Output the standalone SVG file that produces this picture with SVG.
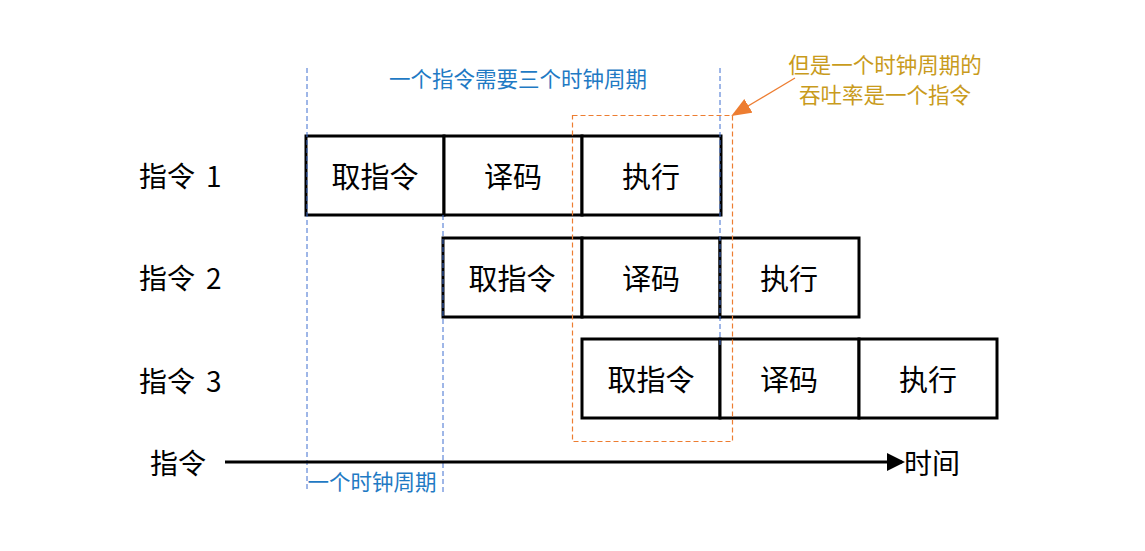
<svg xmlns="http://www.w3.org/2000/svg" width="1145" height="551" viewBox="0 0 1145 551">
<defs>
<style>
.box{fill:#fff;stroke:#000;stroke-width:3}
.t{font-family:"Noto Sans CJK SC","Liberation Sans",sans-serif;font-size:29px;fill:#000;text-anchor:middle;dominant-baseline:central}
.lab{font-family:"Noto Sans CJK SC","Liberation Sans",sans-serif;font-size:28px;fill:#000;dominant-baseline:central}
.blue{font-family:"Noto Sans CJK SC",sans-serif;font-size:21.5px;fill:#1f7ac4;dominant-baseline:central}
.gold{font-family:"Noto Sans CJK SC",sans-serif;font-size:21.5px;fill:#c99b1c;text-anchor:middle;dominant-baseline:central}
.bd{stroke:#3f6fd0;stroke-width:1;stroke-dasharray:5 3;fill:none}
.od{stroke:#ed7d31;stroke-width:1.2;stroke-dasharray:5 3;fill:none}
</style>
<marker id="ah" markerWidth="6" markerHeight="6" refX="5" refY="3" orient="auto" markerUnits="strokeWidth"><path d="M0,0 L6,3 L0,6 z" fill="#000"/></marker>
<marker id="oh" markerWidth="20" markerHeight="20" refX="18" refY="8" orient="auto" markerUnits="userSpaceOnUse"><path d="M0,0 L20,8 L0,16 z" fill="#ed7d31"/></marker>
</defs>
<rect width="1145" height="551" fill="#fff"/>
<g id="row1">
<rect class="box" x="306" y="136" width="138" height="79"/><text class="t" x="375" y="175">取指令</text>
<rect class="box" x="444" y="136" width="138" height="79"/><text class="t" x="513" y="175">译码</text>
<rect class="box" x="582" y="136" width="139" height="79"/><text class="t" x="651" y="175">执行</text>
<text class="lab" x="139" y="175">指令<tspan x="206">1</tspan></text>
</g>
<g id="row2">
<rect class="box" x="443" y="238" width="139" height="79"/><text class="t" x="512" y="277">取指令</text>
<rect class="box" x="582" y="238" width="138" height="79"/><text class="t" x="651" y="277">译码</text>
<rect class="box" x="720" y="238" width="139" height="79"/><text class="t" x="789" y="277">执行</text>
<text class="lab" x="139" y="277">指令<tspan x="206">2</tspan></text>
</g>
<g id="row3">
<rect class="box" x="582" y="339" width="138" height="79"/><text class="t" x="651" y="378">取指令</text>
<rect class="box" x="720" y="339" width="139" height="79"/><text class="t" x="789" y="378">译码</text>
<rect class="box" x="859" y="339" width="138" height="79"/><text class="t" x="928" y="378">执行</text>
<text class="lab" x="139" y="380">指令<tspan x="206">3</tspan></text>
</g>
<g id="annotations">
<line class="bd" x1="307" y1="68" x2="307" y2="492"/>
<line class="bd" x1="720" y1="68" x2="720" y2="346"/>
<line class="bd" x1="443" y1="215" x2="443" y2="492"/>
<text class="blue" x="518" y="77" text-anchor="middle">一个指令需要三个时钟周期</text>
<text class="blue" x="372" y="480" text-anchor="middle">一个时钟周期</text>
<rect class="od" x="572.5" y="115.5" width="160" height="326"/>
<text class="gold" x="885" y="63">但是一个时钟周期的</text>
<text class="gold" x="885" y="93">吞吐率是一个指令</text>
</g>
<g id="connectors">
<line x1="795" y1="78" x2="733" y2="115" stroke="#ed7d31" stroke-width="1.3" marker-end="url(#oh)"/>
<line x1="225" y1="462" x2="902" y2="462" stroke="#000" stroke-width="3" marker-end="url(#ah)"/>
</g>
<g id="axis-labels">
<text class="lab" x="150" y="462">指令</text>
<text class="lab" x="904" y="462">时间</text>
</g>
</svg>
